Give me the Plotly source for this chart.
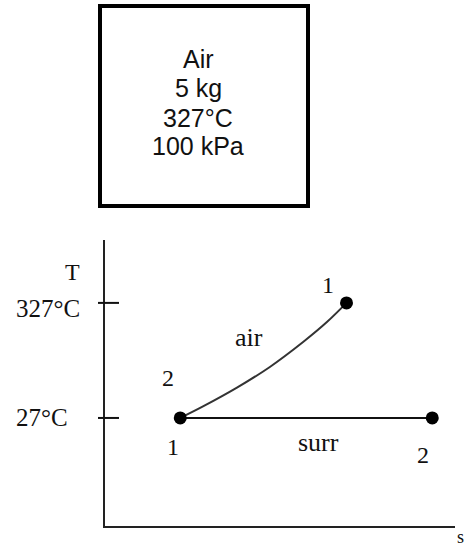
import plotly.graph_objects as go

# ---- data (schematic entropy units) ----
box_lines = ["Air", "5 kg", "327°C", "100 kPa"]

s_air = [2.15, 2.8, 3.77, 4.71, 5.66, 6.34, 6.9]
T_air = [27, 57, 106, 160, 225, 277, 327]

s_surr = [2.15, 9.35]
T_surr = [27, 27]

s_pts = [2.15, 6.9, 9.35]
T_pts = [27, 327, 27]

tick_vals = [327, 27]
tick_text = ["327°C", "27°C"]

W, H = 466, 546
def px(x):
    return x / W
def py(y):
    return 1 - y / H

serif = "Liberation Serif, Times New Roman, serif"
sans = "Liberation Sans, Arial, sans-serif"

fig = go.Figure()
fig.add_trace(go.Scatter(x=s_air, y=T_air, mode="lines",
                         line=dict(color="#333", width=2, shape="spline", smoothing=1.0),
                         hoverinfo="skip", showlegend=False))
fig.add_trace(go.Scatter(x=s_surr, y=T_surr, mode="lines", line=dict(color="#111", width=2),
                         hoverinfo="skip", showlegend=False))
fig.add_trace(go.Scatter(x=s_pts, y=T_pts, mode="markers", marker=dict(color="#000", size=13),
                         hoverinfo="skip", showlegend=False))

ann = []
# box text
box_y = [59, 88, 118, 146]
for t, yy in zip(box_lines, box_y):
    ann.append(dict(text=t, xref="paper", yref="paper", x=px(198), y=py(yy), showarrow=False,
                    xanchor="center", yanchor="middle", font=dict(family=sans, size=25, color="#111")))

# tick labels (left-aligned)
for v, t, sh in zip(tick_vals, tick_text, [-6, 0]):
    ann.append(dict(text=t, xref="paper", yref="y", x=px(14), y=v, yshift=sh, showarrow=False,
                    xanchor="left", yanchor="middle", font=dict(family=serif, size=25, color="#111")))

# axis labels
ann.append(dict(text="T", xref="paper", yref="y", x=px(72), y=408, showarrow=False,
                xanchor="center", yanchor="middle", font=dict(family=serif, size=24, color="#111")))
ann.append(dict(text="s", xref="paper", yref="paper", x=px(460), y=py(537), showarrow=False,
                xanchor="center", yanchor="middle", font=dict(family=serif, size=18, color="#111")))

# state labels, offset from the points in pixels
labels = [("1", s_pts[1], T_pts[1], -19, 18),
          ("2", s_pts[0], T_pts[0], -12, 40),
          ("1", s_pts[0], T_pts[0], -7, -29),
          ("2", s_pts[2], T_pts[2], -9, -37)]
for t, xx, yy, dx, dy in labels:
    ann.append(dict(text=t, xref="x", yref="y", x=xx, y=yy, xshift=dx, yshift=dy, showarrow=False,
                    xanchor="center", yanchor="middle", font=dict(family=serif, size=24, color="#111")))

ann.append(dict(text="air", xref="x", yref="y", x=4.1, y=236, showarrow=False,
                xanchor="center", yanchor="middle", font=dict(family=serif, size=26, color="#111")))
ann.append(dict(text="surr", xref="x", yref="y", x=6.1, y=-38, showarrow=False,
                xanchor="center", yanchor="middle", font=dict(family=serif, size=26, color="#111")))

shapes = [dict(type="rect", xref="paper", yref="paper", x0=px(100), x1=px(308), y0=py(206), y1=py(6),
               line=dict(color="#000", width=4), fillcolor="rgba(0,0,0,0)")]
for v in tick_vals:
    shapes.append(dict(type="line", xref="x domain", yref="y", x0=-0.02, x1=0.04, y0=v, y1=v,
                       line=dict(color="#111", width=2)))

fig.update_layout(
    width=W, height=H,
    margin=dict(l=0, r=0, t=0, b=0),
    paper_bgcolor="white", plot_bgcolor="white",
    xaxis=dict(domain=[px(105), px(455)], range=[0, 10], showgrid=False, zeroline=False,
               showticklabels=False, ticks="", showline=True, linecolor="#222", linewidth=2),
    yaxis=dict(domain=[py(526), py(240)], range=[-254.7, 491], showgrid=False, zeroline=False,
               showticklabels=False, ticks="", showline=True, linecolor="#222", linewidth=2),
    annotations=ann, shapes=shapes,
)

fig.write_html("out.html", config={"displayModeBar": False},
               post_script="document.body.style.margin='0';document.body.style.overflow='hidden';")
